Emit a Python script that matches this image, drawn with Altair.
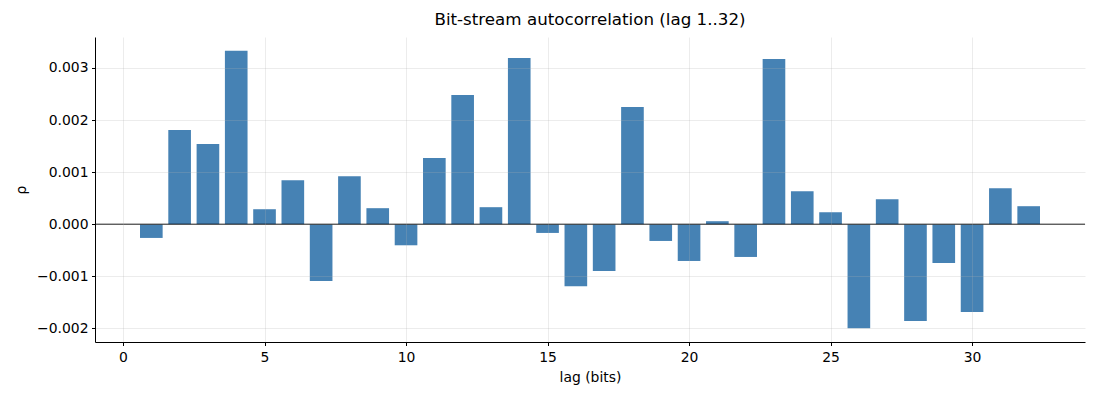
import altair as alt
import pandas as pd

lags = list(range(1, 33))
rho = [
    -0.000263, 0.001808, 0.001538, 0.003327, 0.000288, 0.000846, -0.001090, 0.000923,
    0.000308, -0.000404, 0.001269, 0.002481, 0.000327, 0.003192, -0.000167, -0.001192,
    -0.000897, 0.002250, -0.000321, -0.000705, 0.000058, -0.000628, 0.003173, 0.000635,
    0.000231, -0.001994, 0.000481, -0.001859, -0.000744, -0.001686, 0.000692, 0.000346,
]
x_ticks = [0, 5, 10, 15, 20, 25, 30]
y_ticks = [-0.002, -0.001, 0.0, 0.001, 0.002, 0.003]

df = pd.DataFrame({"lag": lags, "rho": rho})
FONT = "DejaVu Sans"

xscale = alt.Scale(domain=[-0.99, 33.99], nice=False, zero=False)
yscale = alt.Scale(domain=[-0.00226, 0.003593], nice=False, zero=False)

common_axis = dict(
    grid=True, gridColor="#b0b0b0", gridOpacity=0.3, gridWidth=0.8,
    domainColor="black", domainWidth=1, tickColor="black", tickSize=3.5, tickWidth=1,
    labelFont=FONT, labelFontSize=13.9, labelColor="black",
    titleFont=FONT, titleFontSize=13.9, titleColor="black", titleFontWeight="normal",
    zindex=1,
)

bars = alt.Chart(df).transform_calculate(
    x0="datum.lag - 0.4", x1="datum.lag + 0.4"
).mark_rect(color="#4682b4").encode(
    x=alt.X("x0:Q", scale=xscale,
            axis=alt.Axis(values=x_ticks, format="d", title="lag (bits)", labelPadding=5,
                          titlePadding=6, **common_axis)),
    x2="x1:Q",
    y=alt.Y("rho:Q", scale=yscale,
            axis=alt.Axis(values=y_ticks, format=".3f", title="ρ", labelPadding=3.5,
                          titlePadding=8, **common_axis)),
    y2=alt.datum(0),
)

zero = alt.Chart(pd.DataFrame({"z": [0.0]})).mark_rule(color="black", strokeWidth=1).encode(
    y=alt.Y("z:Q", scale=yscale)
)

chart = alt.layer(bars, zero).properties(
    width=990, height=305,
    title=alt.TitleParams("Bit-stream autocorrelation (lag 1..32)", font=FONT, fontSize=16.7,
                          fontWeight="normal", color="black", anchor="middle", offset=8),
    autosize=alt.AutoSizeParams(type="none"),
    padding={"left": 87, "top": 29, "right": 7, "bottom": 50},
).configure_view(stroke=None)

chart.save("out.html", embed_options={"renderer": "svg", "actions": False})
